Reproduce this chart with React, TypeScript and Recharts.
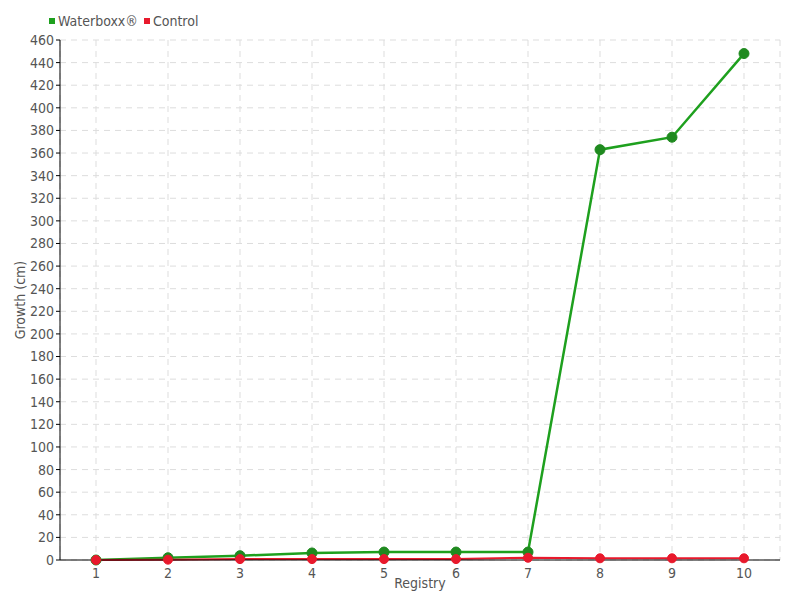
import React from 'react';
import {
  LineChart,
  Line,
  XAxis,
  YAxis,
  CartesianGrid,
  Label,
} from 'recharts';

const registry = ['1', '2', '3', '4', '5', '6', '7', '8', '9', '10'];
const waterboxx = [0, 2, 3.8, 6.2, 7, 7, 7, 363, 374, 448];
const control = [0, 0.3, 0.8, 0.8, 0.8, 0.8, 2, 1.5, 1.5, 1.5];
const yTicks = Array.from({ length: 24 }, (_, i) => i * 20);

const GREEN = '#1ea01e';
const GREEN_DOT = '#1f8a1f';
const RED = '#e8192c';
const TEXT = '#555';
const FONT = '"DejaVu Sans Condensed", "DejaVu Sans", sans-serif';

const rows = registry.map((r, i) => ({
  registry: r,
  waterboxx: waterboxx[i],
  control: control[i],
}));

// legend drawn as a plain overlay so it does not push the plot down
function LegendBox() {
  const items = [
    { name: 'Waterboxx®', color: GREEN },
    { name: 'Control', color: RED },
  ];
  return (
    <div
      style={{
        position: 'absolute',
        left: 49,
        top: 13,
        display: 'flex',
        gap: 6,
        fontFamily: FONT,
        fontSize: 14,
        color: TEXT,
      }}
    >
      {items.map((it) => (
        <span key={it.name} style={{ display: 'flex', alignItems: 'center' }}>
          <span style={{ width: 6, height: 6, background: it.color, marginRight: 3, display: 'inline-block' }} />
          {it.name}
        </span>
      ))}
    </div>
  );
}

export default function App() {
  return (
    <div style={{ position: 'absolute', left: 0, top: 0, width: 800, height: 600, background: '#fff' }}>
      <LineChart
        width={800}
        height={600}
        data={rows}
        margin={{ top: 40, right: 20, bottom: 0, left: 0 }}
        style={{ fontFamily: FONT }}
      >
        <CartesianGrid stroke="#ddd" strokeDasharray="6 5" />
        <XAxis
          dataKey="registry"
          height={40}
          padding={{ left: 36, right: 36 }}
          tickLine={false}
          tickMargin={2}
          axisLine={{ stroke: '#000' }}
          tick={{ fill: TEXT, fontSize: 14 }}
        >
          <Label value="Registry" position="insideBottom" offset={12} fill={TEXT} fontSize={14} />
        </XAxis>
        <YAxis
          width={60}
          domain={[0, 460]}
          ticks={yTicks}
          interval={0}
          tickSize={4}
          tickMargin={2}
          axisLine={{ stroke: '#000' }}
          tickLine={{ stroke: '#000' }}
          tick={{ fill: TEXT, fontSize: 14 }}
        >
          <Label value="Growth (cm)" angle={-90} position="insideLeft" offset={20} fill={TEXT} fontSize={14} style={{ textAnchor: 'middle' }} />
        </YAxis>
        <Line
          dataKey="waterboxx"
          name="Waterboxx®"
          stroke={GREEN}
          strokeWidth={2.5}
          dot={{ r: 5, fill: GREEN_DOT, stroke: GREEN_DOT, strokeWidth: 1 }}
          isAnimationActive={false}
        />
        <Line
          dataKey="control"
          name="Control"
          stroke={RED}
          strokeWidth={2}
          dot={{ r: 4.5, fill: RED, stroke: RED, strokeWidth: 1 }}
          isAnimationActive={false}
        />
      </LineChart>
      <LegendBox />
    </div>
  );
}
